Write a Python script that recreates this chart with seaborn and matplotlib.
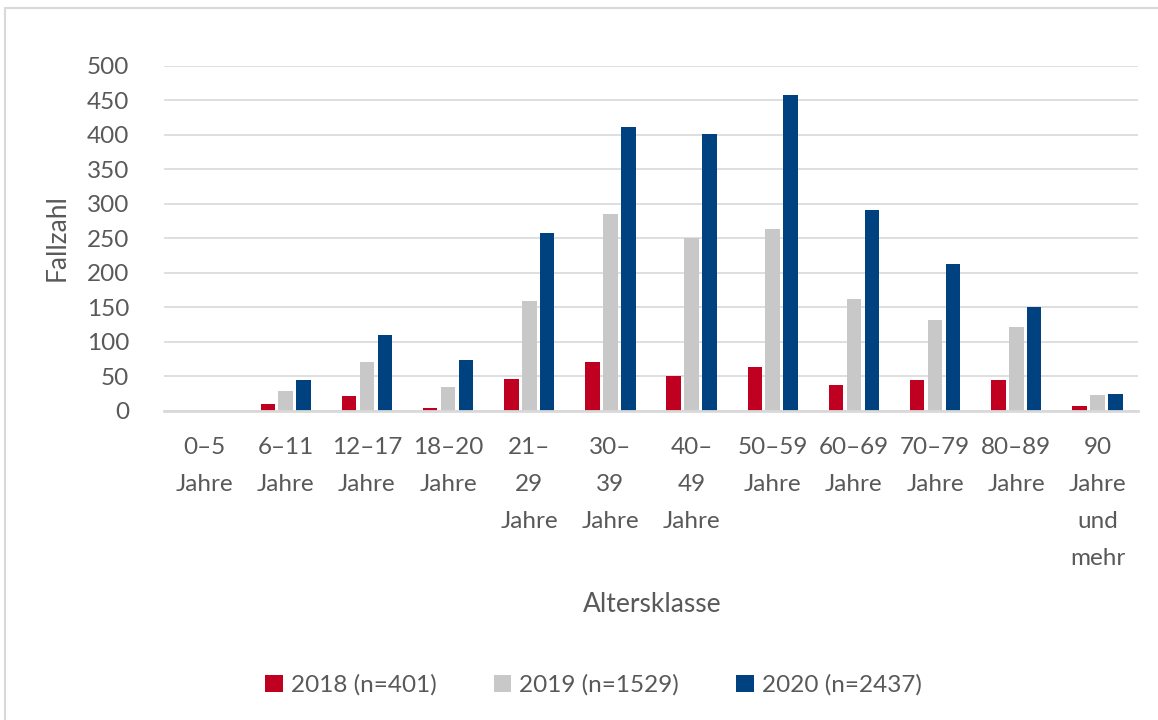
import pandas as pd
import matplotlib.pyplot as plt
import matplotlib.patches as mpatches
import seaborn as sns

# Altersklassen und Fallzahlen je Jahr
categories = ["0–5 Jahre", "6–11 Jahre", "12–17 Jahre", "18–20 Jahre",
              "21–29 Jahre", "30–39 Jahre", "40–49 Jahre", "50–59 Jahre",
              "60–69 Jahre", "70–79 Jahre", "80–89 Jahre", "90 Jahre und mehr"]
tick_labels = ["0–5\nJahre", "6–11\nJahre", "12–17\nJahre", "18–20\nJahre",
               "21–\n29\nJahre", "30–\n39\nJahre", "40–\n49\nJahre", "50–59\nJahre",
               "60–69\nJahre", "70–79\nJahre", "80–89\nJahre", "90\nJahre\nund\nmehr"]
series_names = ["2018 (n=401)", "2019 (n=1529)", "2020 (n=2437)"]
values_2018 = [0, 10, 22, 4, 46, 71, 51, 64, 37, 45, 44, 7]
values_2019 = [0, 28, 70, 35, 159, 285, 251, 263, 162, 132, 121, 23]
values_2020 = [0, 44, 110, 74, 258, 412, 402, 458, 291, 213, 151, 24]
colors = ["#C00020", "#C8C8C8", "#00427F"]

rows = []
for name, vals in zip(series_names, [values_2018, values_2019, values_2020]):
    for cat, v in zip(categories, vals):
        rows.append({"Altersklasse": cat, "Fallzahl": v, "Jahr": name})
df = pd.DataFrame(rows)

sns.set_theme(style="white")
plt.rcParams["font.family"] = ["Lato", "DejaVu Sans"]
text_color = "#595959"
fs = 17.5

W, H = 1158, 720
fig = plt.figure(figsize=(W / 100, H / 100), dpi=100)
ax = fig.add_axes([164 / W, 309.3 / H, (1138 - 164) / W, (654 - 309.3) / H])

sns.barplot(data=df, x="Altersklasse", y="Fallzahl", hue="Jahr",
            order=categories, hue_order=series_names, palette=colors,
            saturation=1, width=0.663, gap=0.19, linewidth=0, ax=ax)

ax.set_ylim(0, 500)
ax.set_yticks(range(0, 501, 50))
ax.yaxis.grid(True, color="#D9D9D9", linewidth=1.2)
ax.set_axisbelow(True)
for s in ["left", "right", "top"]:
    ax.spines[s].set_visible(False)
ax.spines["bottom"].set_color("#D9D9D9")
ax.spines["bottom"].set_linewidth(2)

ax.set_xticks(range(len(categories)))
ax.set_xticklabels(tick_labels, linespacing=1.93)
ax.tick_params(axis="x", length=0, pad=19, labelsize=fs, labelcolor=text_color)
ax.tick_params(axis="y", length=0, pad=25, labelsize=fs, labelcolor=text_color)

ax.set_xlabel("")
ax.set_ylabel("Fallzahl", fontsize=19, color=text_color)
ax.yaxis.set_label_coords(-(164 - 70) / (1138 - 164), (410.7 - 238) / (410.7 - 66))
fig.text(652 / W, 1 - 604 / H, "Altersklasse", fontsize=19, color=text_color,
         ha="center", va="center")

handles, labels = ax.get_legend_handles_labels()
if ax.get_legend() is not None:
    ax.get_legend().remove()
fig.legend(handles, labels, loc="center", bbox_to_anchor=(593.5 / W, 1 - 685 / H),
           ncol=3, frameon=False, fontsize=fs, labelcolor=text_color,
           handlelength=0.72, handleheight=0.72, handletextpad=0.33,
           columnspacing=2.35)

# heller Rahmen um das Diagramm
fig.add_artist(mpatches.Rectangle((5 / W, -0.1), 1.2, 1.1 - 8 / H,
                                  transform=fig.transFigure, fill=False,
                                  edgecolor="#D9D9D9", linewidth=1.5))

fig.savefig("out.png", dpi=100)
